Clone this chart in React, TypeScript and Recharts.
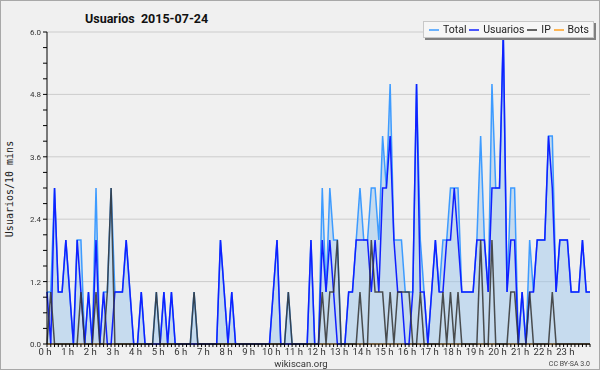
import React from 'react';
import { ComposedChart, Area, Line, XAxis, YAxis, CartesianGrid } from 'recharts';

// 10-minute slots over the day (0 .. 144)
const slots = [
  0, 1, 2, 3, 4, 5, 6, 7, 8, 9, 10, 11,
  12, 13, 14, 15, 16, 17, 18, 19, 20, 21, 22, 23,
  24, 25, 26, 27, 28, 29, 30, 31, 32, 33, 34, 35,
  36, 37, 38, 39, 40, 41, 42, 43, 44, 45, 46, 47,
  48, 49, 50, 51, 52, 53, 54, 55, 56, 57, 58, 59,
  60, 61, 62, 63, 64, 65, 66, 67, 68, 69, 70, 71,
  72, 73, 74, 75, 76, 77, 78, 79, 80, 81, 82, 83,
  84, 85, 86, 87, 88, 89, 90, 91, 92, 93, 94, 95,
  96, 97, 98, 99, 100, 101, 102, 103, 104, 105, 106, 107,
  108, 109, 110, 111, 112, 113, 114, 115, 116, 117, 118, 119,
  120, 121, 122, 123, 124, 125, 126, 127, 128, 129, 130, 131,
  132, 133, 134, 135, 136, 137, 138, 139, 140, 141, 142, 143,
  144,
];

const hourLabels = [
  '0 h', '1 h', '2 h', '3 h', '4 h', '5 h', '6 h', '7 h', '8 h', '9 h', '10 h', '11 h',
  '12 h', '13 h', '14 h', '15 h', '16 h', '17 h', '18 h', '19 h', '20 h', '21 h', '22 h', '23 h',
];

const total = [
  1, 1, 3, 1, 1, 2, 1, 0, 2, 2, 0, 1,
  0, 3, 0, 1, 1, 3, 1, 1, 1, 2, 1, 0,
  0, 1, 0, 0, 0, 1, 0, 1, 0, 1, 0, 0,
  0, 0, 0, 1, 0, 0, 0, 0, 0, 0, 2, 1,
  0, 1, 0, 0, 0, 0, 0, 0, 0, 0, 0, 0,
  1, 2, 0, 0, 1, 0, 0, 0, 0, 0, 2, 0,
  0, 3, 1, 3, 2, 2, 0, 0, 1, 1, 2, 3,
  2, 2, 3, 3, 2, 4, 3, 5, 2, 2, 2, 1,
  1, 1, 5, 2, 1, 0, 1, 2, 1, 2, 2, 3,
  3, 3, 1, 1, 1, 1, 2, 4, 2, 1, 5, 3,
  3, 6, 1, 3, 3, 0, 1, 0, 2, 1, 2, 2,
  2, 4, 4, 1, 2, 2, 2, 1, 1, 1, 2, 1,
  1,
];

const usuarios = [
  1, 0, 3, 1, 1, 2, 1, 0, 2, 1, 0, 1,
  0, 2, 0, 1, 0, 0, 1, 1, 1, 2, 1, 0,
  0, 1, 0, 0, 0, 0, 0, 1, 0, 1, 0, 0,
  0, 0, 0, 0, 0, 0, 0, 0, 0, 0, 2, 1,
  0, 1, 0, 0, 0, 0, 0, 0, 0, 0, 0, 0,
  1, 2, 0, 0, 0, 0, 0, 0, 0, 0, 2, 0,
  0, 2, 1, 2, 1, 0, 0, 0, 1, 1, 2, 2,
  2, 2, 1, 2, 1, 3, 3, 4, 2, 1, 1, 0,
  0, 1, 5, 1, 1, 0, 1, 2, 1, 1, 2, 2,
  3, 2, 1, 1, 1, 1, 2, 2, 2, 1, 3, 3,
  3, 6, 1, 2, 2, 0, 1, 0, 1, 1, 2, 2,
  2, 4, 3, 1, 2, 2, 2, 1, 1, 1, 2, 1,
  1,
];

const ip = [
  0, 1, 0, 0, 0, 0, 0, 0, 0, 1, 0, 0,
  0, 1, 0, 0, 1, 3, 0, 0, 0, 0, 0, 0,
  0, 0, 0, 0, 0, 1, 0, 0, 0, 0, 0, 0,
  0, 0, 0, 1, 0, 0, 0, 0, 0, 0, 0, 0,
  0, 0, 0, 0, 0, 0, 0, 0, 0, 0, 0, 0,
  0, 0, 0, 0, 1, 0, 0, 0, 0, 0, 0, 0,
  0, 1, 0, 1, 1, 2, 0, 0, 0, 0, 0, 1,
  0, 0, 2, 1, 1, 1, 0, 1, 0, 1, 1, 1,
  1, 0, 0, 1, 0, 0, 0, 0, 0, 1, 0, 1,
  0, 1, 0, 0, 0, 0, 0, 2, 0, 0, 2, 0,
  0, 0, 0, 1, 1, 0, 0, 0, 1, 0, 0, 0,
  0, 0, 1, 0, 0, 0, 0, 0, 0, 0, 0, 0,
  0,
];

const bots = [
  0, 0, 0, 0, 0, 0, 0, 0, 0, 0, 0, 0,
  0, 0, 0, 0, 0, 0, 0, 0, 0, 0, 0, 0,
  0, 0, 0, 0, 0, 0, 0, 0, 0, 0, 0, 0,
  0, 0, 0, 0, 0, 0, 0, 0, 0, 0, 0, 0,
  0, 0, 0, 0, 0, 0, 0, 0, 0, 0, 0, 0,
  0, 0, 0, 0, 0, 0, 0, 0, 0, 0, 0, 0,
  0, 0, 0, 0, 0, 0, 0, 0, 0, 0, 0, 0,
  0, 0, 0, 0, 0, 0, 0, 0, 0, 0, 0, 0,
  0, 0, 0, 0, 0, 0, 0, 0, 0, 0, 0, 0,
  0, 0, 0, 0, 0, 0, 0, 0, 0, 0, 0, 0,
  0, 0, 0, 0, 0, 0, 0, 0, 0, 0, 0, 0,
  0, 0, 0, 0, 0, 0, 0, 0, 0, 0, 0, 0,
  0,
];

const yTicks = [
  0, 0.3, 0.6, 0.9, 1.2, 1.5, 1.8, 2.1, 2.4, 2.7, 3.0,
  3.3, 3.6, 3.9, 4.2, 4.5, 4.8, 5.1, 5.4, 5.7, 6.0,
];
const yGrid = [1.2, 2.4, 3.6, 4.8, 6.0];

const series = [
  { key: 'total', name: 'Total', color: '#3d9bff' },
  { key: 'usuarios', name: 'Usuarios', color: '#1020ff' },
  { key: 'ip', name: 'IP', color: '#333333' },
  { key: 'bots', name: 'Bots', color: '#ffa020' },
];

const data = slots.map((slot, i) => ({
  slot,
  total: total[i],
  usuarios: usuarios[i],
  ip: ip[i],
  bots: bots[i],
}));

const NARROW = 'Roboto, "Liberation Sans", sans-serif';
const MONO = '"DejaVu Sans Mono", monospace';

const HourTick = (props: any) => {
  const { x, y, payload } = props;
  if (payload.value % 6 !== 0) return <g />;
  return (
    <text x={x - 2} y={y} dy={6} textAnchor="middle" fontSize={9.5} fontFamily={NARROW} fill="#333">
      {hourLabels[payload.value / 6]}
    </text>
  );
};

const ValueTick = (props: any) => {
  const { x, y, payload, index } = props;
  if (index % 4 !== 0) return <g />;
  return (
    <text x={x} y={y} dy={3} textAnchor="end" fontSize={8} fontFamily={NARROW} fill="#333">
      {payload.value.toFixed(1)}
    </text>
  );
};

const LegendBox = () => (
  <div
    style={{
      position: 'absolute',
      left: 422,
      top: 20,
      width: 171,
      height: 17,
      display: 'flex',
      alignItems: 'center',
      justifyContent: 'space-between',
      padding: '0 4px 0 5px',
      background: '#f6f6f6',
      border: '1px solid #c8c8c8',
      boxShadow: '2px 2px 0 #808080',
      fontFamily: NARROW,
      fontSize: 10.5,
      color: '#222',
      boxSizing: 'border-box',
    }}
  >
    {series.map((s) => (
      <span key={s.key} style={{ display: 'flex', alignItems: 'center' }}>
        <svg width={10} height={4} style={{ marginRight: 4 }}>
          <line x1={0} y1={2} x2={10} y2={2} stroke={s.color} strokeWidth={1.5} />
        </svg>
        {s.name}
      </span>
    ))}
  </div>
);

export default function App() {
  return (
    <div
      style={{
        position: 'fixed',
        left: 0,
        top: 0,
        width: 600,
        height: 370,
        background: '#f0f0f0',
        border: '1px solid #a8a8a8',
        boxSizing: 'border-box',
      }}
    >
      <div
        style={{
          position: 'absolute',
          left: 84,
          top: 10,
          fontFamily: NARROW,
          fontWeight: 'bold',
          fontSize: 12.5,
          color: '#111',
          whiteSpace: 'pre',
        }}
      >
        {'Usuarios  2015-07-24'}
      </div>
      <div
        style={{
          position: 'absolute',
          left: 8,
          top: 188,
          transform: 'translate(-50%, -50%) rotate(-90deg)',
          fontFamily: MONO,
          fontSize: 10,
          color: '#222',
          whiteSpace: 'nowrap',
        }}
      >
        Usuarios/10 mins
      </div>
      <div
        style={{
          position: 'absolute',
          left: 0,
          width: 600,
          top: 358,
          lineHeight: '10px',
          textAlign: 'center',
          fontFamily: NARROW,
          fontSize: 9.5,
          color: '#333',
        }}
      >
        wikiscan.org
      </div>
      <div
        style={{
          position: 'absolute',
          right: 9,
          top: 359,
          lineHeight: '8px',
          fontFamily: NARROW,
          fontSize: 7,
          color: '#444',
        }}
      >
        CC BY-SA 3.0
      </div>
      <ComposedChart
        width={600}
        height={370}
        data={data}
        margin={{ top: 32, right: 10, left: 0, bottom: 6 }}
        style={{ position: 'absolute', left: -1, top: -1 }}
      >
        <CartesianGrid vertical={false} horizontalValues={yGrid} stroke="#cccccc" />
        <XAxis
          type="number"
          dataKey="slot"
          domain={[0, 144]}
          ticks={slots}
          interval={0}
          height={20}
          tickSize={3}
          tick={HourTick}
          stroke="#000"
          tickLine={{ stroke: '#000' }}
        />
        <YAxis
          type="number"
          domain={[0, 6]}
          ticks={yTicks}
          interval={0}
          width={47}
          tickSize={4}
          tick={ValueTick}
          stroke="#000"
          tickLine={{ stroke: '#000' }}
        />
        <Line dataKey="bots" name="Bots" stroke="#ffa020" strokeWidth={1} dot={false} isAnimationActive={false} />
        <Area
          dataKey="total"
          name="Total"
          type="linear"
          stroke="#3d9bff"
          strokeWidth={1.5}
          fill="#9cc6ec"
          fillOpacity={0.5}
          isAnimationActive={false}
        />
        <Line dataKey="usuarios" name="Usuarios" type="linear" stroke="#1020ff" strokeWidth={1.5} dot={false} isAnimationActive={false} />
        <Line dataKey="ip" name="IP" type="linear" stroke="#333333" strokeWidth={1.5} strokeOpacity={0.85} dot={false} isAnimationActive={false} />
      </ComposedChart>
      <LegendBox />
    </div>
  );
}
